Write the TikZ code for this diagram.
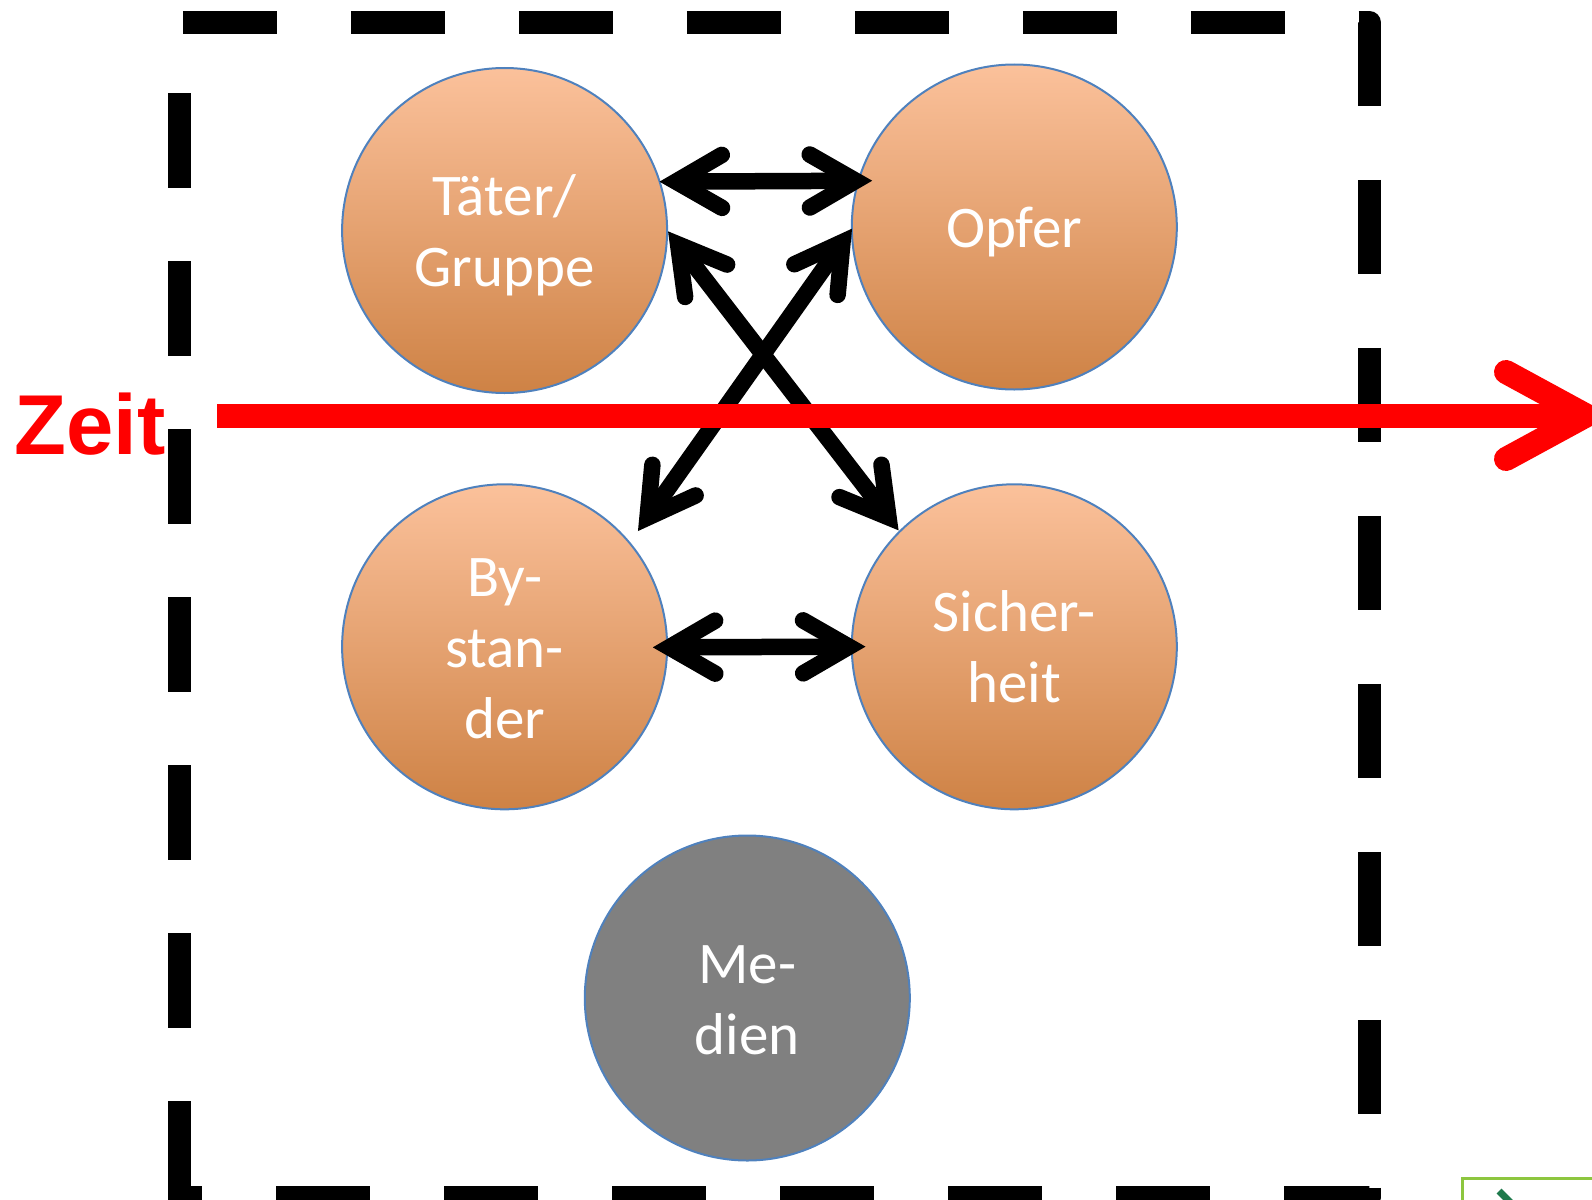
\documentclass[tikz,border=0pt]{standalone}
\usepackage{fontspec}
\usetikzlibrary{calc}
\newfontfamily\calfont{Carlito}
\newfontfamily\zeitfont{Liberation Sans}
\definecolor{peachtop}{HTML}{FBC19B}
\definecolor{peachbot}{HTML}{CE8245}
\definecolor{rimblue}{HTML}{4F81BD}
\definecolor{mediagray}{HTML}{808080}
\definecolor{limeframe}{HTML}{8DC63F}
\definecolor{leafgreen}{HTML}{1F7A4C}

% double-headed open arrow between two named points
\newcommand{\biarrow}[2]{%
  \draw[shaft] (#1) -- (#2);
  \draw[barb] ($(#1)!53pt!30:(#2)$) -- (#1) -- ($(#1)!53pt!-30:(#2)$);
  \draw[barb] ($(#2)!53pt!30:(#1)$) -- (#2) -- ($(#2)!53pt!-30:(#1)$);
}

\begin{document}
\begin{tikzpicture}[x=1pt,y=-1pt,
  frameline/.style={line width=23pt, dash pattern=on 94.4pt off 73.6pt, line join=round},
  disc/.style={circle, minimum size=325pt, inner sep=0pt, outer sep=0pt,
    draw=rimblue, line width=2pt},
  caption/.style={text=white, align=center, yshift=-5pt, inner sep=0pt,
    font=\calfont\fontsize{59}{71}\selectfont},
  actor/.style={disc, top color=peachtop, bottom color=peachbot},
  media/.style={disc, fill=mediagray},
  shaft/.style={line width=16.5pt, line cap=butt},
  barb/.style={line width=16.5pt, line cap=round, line join=miter},
  timeline/.style={red, line width=24pt},
]
\useasboundingbox (0,0) rectangle (1592,1199);
\clip (0,0) rectangle (1592,1199);

% dashed frame
\draw[frameline] (182.8,22.3) -- (1285.4,22.3);
\draw[frameline] (1358.7,22.3) -- (1369.2,22.3) -- (1369.2,1197) -- (168.2,1197);
\draw[frameline] (179.7,93.4) -- (179.7,1197);

% actors
\node[actor, label={[caption]center:Täter/\\Gruppe}] (tg) at (504.6,230.5) {};
\node[actor, label={[caption]center:Opfer}] (op) at (1014.3,227) {};
\node[actor, label={[caption, yshift=3pt]center:By-\\stan-\\der}] (by) at (504.6,646.8) {};
\node[actor, label={[caption, yshift=5pt]center:Sicher-\\heit}] (si) at (1014.3,646.8) {};
\node[media, label={[caption, yshift=3pt]center:Me-\\dien}] (me) at (747.3,998) {};

% arrow end points
\coordinate (tg-op) at (676,181.6);
\coordinate (op-tg) at (855.7,180.8);
\coordinate (by-si) at (669.3,647.3);
\coordinate (si-by) at (849,646.7);
\coordinate (tg-si) at (678.1,244.4);
\coordinate (si-tg) at (888.5,517.3);
\coordinate (op-by) at (842.5,242.1);
\coordinate (by-op) at (647.5,517.6);

\biarrow{tg-op}{op-tg}
\biarrow{by-si}{si-by}
\biarrow{tg-si}{si-tg}
\biarrow{op-by}{by-op}

% time axis
\coordinate (zstart) at (217.3,415.5);
\coordinate (ztip) at (1586,415.5);
\coordinate (zup) at (1506,372);
\coordinate (zdn) at (1506,459);
\draw[timeline, line cap=butt] (zstart) -- (ztip);
\draw[timeline, line cap=round, line join=miter] (zup) -- (ztip) -- (zdn);
\node[text=red, font=\zeitfont\bfseries\fontsize{85}{100}\selectfont,
      anchor=base west, inner sep=0pt] (zeit) at (14.5,454) {Zeit};

% edge of a neighbouring box
\draw[limeframe, line width=2.5pt] (1462.7,1210) -- (1462.7,1178.3) -- (1600,1178.3);
\draw[leafgreen, line width=7pt] (1499,1191) -- (1512,1204);
\end{tikzpicture}
\end{document}
